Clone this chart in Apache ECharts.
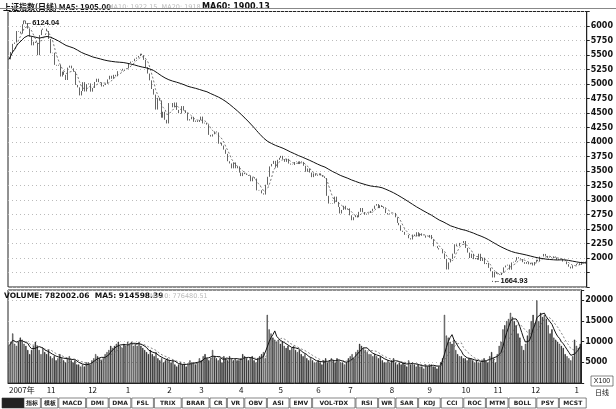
<!DOCTYPE html>
<html><head><meta charset="utf-8">
<script src="https://cdn.jsdelivr.net/npm/echarts@6/dist/echarts.min.js"></script>
<style>html,body{margin:0;padding:0;background:#fff}#c{width:616px;height:409px}</style>
</head><body><div id="c"></div>
<script>
const monthLabels = ['2007年','11','12','1','2','3','4','5','6','7','8','9','10','11','12','1'];
const closes = [
[5425,5552,5692,5715,5913,5903,5871,6030,6092,6036,5954,5818,5667,5729,5708,5497,5843,5935,5955,5954],
[5914,5777,5531,5538,5330,5316,5331,5129,5214,5158,5069,5282,5316,5270,5213,4984,4942,4803,4879,5032,4871,4998],
[5010,4868,4931,5035,5091,5032,5024,4957,4982,5007,5079,5142,5090,5158,5133,5221,5220,5233,5262,5261],
[5272,5362,5386,5394,5435,5456,5484,5522,5497,5416,5290,5180,5063,4914,4817,4559,4761,4717,4419,4521,4383,4320],
[4671,4672,4599,4681,4554,4497,4490,4619,4546,4499,4370,4393,4434,4348,4370,4346,4380],
[4438,4320,4333,4300,4123,4094,4133,4182,4165,3971,3988,3938,3869,3796,3668,3630,3546,3647,3547,3580,3472],
[3412,3472,3446,3431,3416,3323,3391,3370,3166,3173,3168,3115,3094,3263,3400,3579,3622,3675,3558,3693,3728],
[3761,3706,3658,3710,3628,3610,3603,3655,3664,3620,3667,3657,3590,3486,3543,3473,3394,3459,3418,3433],
[3459,3430,3400,3379,3072,2939,2932,2941,3058,2967,2880,2768,2829,2900,2836,2856,2736],
[2651,2704,2737,2703,2796,2862,2790,2747,2765,2776,2812,2848,2902,2930,2860,2910,2880,2855,2774,2750,2768,2775],
[2777,2702,2605,2565,2470,2450,2400,2397,2341,2319,2404,2378,2444,2372,2425,2383,2387,2350,2350,2397],
[2325,2202,2204,2170,2146,2145,2080,1986,1802,1924,1986,2075,2236,2201,2208,2260,2257,2293],
[2173,2093,2000,2073,1980,2000,1970,2073,1948,2005,1895,1913,1830,1771,1664,1762,1728],
[1719,1706,1747,1839,1870,1885,1799,1923,1934,1956,2014,1991,1982,1928,1900,1930,1891,1917,1871,1930],
[1970,1945,2024,2026,2070,2036,2002,2011,1997,2026,2008,1969,1986,1980,1938,1940,1893,1850,1820,1870,1877,1900,1911],
[1880,1934,1937,1905]];
const volumes = [
[9000,10000,12000,9500,9000,10000,11000,10500,9500,9000,8000,7000,8000,9000,10000,9000,8000,7000,8500,7500],
[7000,8000,6500,6000,6500,5500,6000,7000,6000,5500,5000,6000,6500,5500,5000,5500,4500,4500,4000,4500,4000,5000],
[5000,4500,5500,6000,7000,6500,6000,5500,6000,7000,7500,8000,9000,8500,9000,9500,10000,9000,8500,9500],
[9000,10000,9500,10000,9000,9500,9000,10000,9000,8500,8000,7500,7000,8000,7000,6500,7500,6000,5500,6000,5000,5500],
[6000,5500,5000,5500,4500,4000,4500,5000,4500,4500,4000,4500,5500,5000,5000,4500,5000],
[6000,5500,6500,7000,6000,5500,6000,8000,6500,6000,5500,6000,5000,6500,6000,5500,6500,6000,5500,6000,5500],
[5500,6000,7000,6500,6000,5500,6000,6500,5500,5000,6000,6500,7000,7500,6000,16500,13000,12000,11000,10500,10000],
[10500,9500,10000,9000,8500,9000,8000,8500,9000,8000,7500,8000,7000,6500,7000,6000,5500,6000,5500,5000],
[5000,5500,5000,4500,5500,6000,5000,5500,6000,5500,5000,6000,5500,5000,5000,4500,5000],
[6000,6500,7000,6000,7500,8000,9500,9000,8500,8000,7500,7000,7000,6500,7000,6500,6000,6500,5500,5000,5000,5500],
[5000,5500,6000,5000,4500,5000,4500,5000,4500,4000,5500,4500,5000,4500,4000,4500,4000,4000,3500,4500],
[4000,4500,4500,4000,4000,3500,4000,5000,6000,16500,11500,11000,10000,9500,10500,8000,7000,6500],
[6500,6000,6000,5500,6000,6000,5500,5000,5500,5000,5000,5500,6000,5500,5000,6500,7500],
[6000,5000,7000,9000,10000,13000,14000,15000,15500,17000,16000,15000,14000,12000,11000,9000,8000,9500,11500,13000],
[15000,16500,14500,20000,15000,17000,16000,16500,15500,14000,12000,13000,11000,10500,10000,9500,9000,8500,7000,6500,6000,5500,6500],
[10500,9000,8500,9500]];
const priceTicks = [2000,2250,2500,2750,3000,3250,3500,3750,4000,4250,4500,4750,5000,5250,5500,5750,6000];
const toolbarLabels = ['','指标','模板','MACD','DMI','DMA','FSL','TRIX','BRAR','CR','VR','OBV','ASI','EMV','VOL-TDX','RSI','WR','SAR','KDJ','CCI','ROC','MTM','BOLL','PSY','MCST'];

const cats=[], cl=[], vol=[];
closes.forEach((m,mi)=>m.forEach((v,i)=>{cats.push(i===0?monthLabels[mi]:'');cl.push(v);vol.push(volumes[mi][i]);}));
const k = cl.map((c,i)=>{const o=i?cl[i-1]:c;return [o,c,Math.min(o,c),Math.max(o,c)];});
function ma(a,n){return a.map((v,i)=>{const s=a.slice(Math.max(0,i-n+1),i+1);return +(s.reduce((x,y)=>x+y,0)/s.length).toFixed(2);});}
const volBars = vol.map((v,i)=>({value:v,itemStyle:{color:cl[i]>=k[i][0]?'#fff':'#222',borderColor:'#222',borderWidth:0.6}}));

const ch=echarts.init(document.getElementById('c'));
const lab={fontSize:8,color:'#111',fontFamily:'DejaVu Sans',fontWeight:'bold'};
const gfx=[];
let x=24;
toolbarLabels.forEach((t,i)=>{const w=i===0?22:(t.length*5.2+6);gfx.push({type:'rect',shape:{x:i===0?2:x,y:398,width:w,height:10},style:{fill:i===0?'#222':'#fff',stroke:'#333',lineWidth:0.6}});
 if(t)gfx.push({type:'text',x:x+w/2,y:403,style:{text:t,fontSize:6,fontWeight:'bold',fill:'#222',align:'center',verticalAlign:'middle',fontFamily:'DejaVu Sans'}});
 if(i>0)x+=w+1;});
gfx.push({type:'text',left:3,top:3,style:{text:'上证指数(日线) MA5: 1905.00',fontSize:8,fontWeight:'bold',fill:'#111',fontFamily:'Noto Sans CJK SC'}});
gfx.push({type:'text',left:108,top:4,style:{text:'MA10: 1922.15  MA20: 1918.47',fontSize:6.5,fill:'#bbb',fontFamily:'DejaVu Sans'}});
gfx.push({type:'text',left:202,top:3,style:{text:'MA60: 1900.13',fontSize:8,fontWeight:'bold',fill:'#111',fontFamily:'DejaVu Sans'}});
gfx.push({type:'text',left:4,top:292,style:{text:'VOLUME: 782002.06  MA5: 914598.39',fontSize:7.5,fontWeight:'bold',fill:'#111',fontFamily:'DejaVu Sans'}});
gfx.push({type:'text',left:150,top:293,style:{text:'MA10: 776480.51',fontSize:6.5,fill:'#bbb',fontFamily:'DejaVu Sans'}});
gfx.push({type:'rect',shape:{x:591,y:376,width:22,height:10},style:{fill:'#fff',stroke:'#333',lineWidth:0.6}});
gfx.push({type:'text',x:602,y:381,style:{text:'X100',fontSize:7,fill:'#111',align:'center',verticalAlign:'middle'}});
gfx.push({type:'text',x:602,y:392,style:{text:'日线',fontSize:7,fill:'#111',align:'center',verticalAlign:'middle',fontFamily:'Noto Sans CJK SC'}});
gfx.push({type:'rect',shape:{x:0,y:8,width:616,height:1},style:{fill:'#888'}});

ch.setOption({animation:false,backgroundColor:'#fff',graphic:gfx,
 grid:[{left:8,right:26,top:11.5,height:275.5,show:true,borderColor:'#222',borderWidth:1},
       {left:8,right:26,top:290,height:93,show:true,borderColor:'#222',borderWidth:1}],
 xAxis:[{type:'category',data:cats,gridIndex:0,boundaryGap:true,axisLine:{show:false},axisTick:{show:false},axisLabel:{show:false}},
        {type:'category',data:cats,gridIndex:1,boundaryGap:true,axisLine:{lineStyle:{color:'#222'}},
         axisTick:{interval:(i,v)=>v!=='',length:3,inside:true,lineStyle:{color:'#222'}},
         axisLabel:{interval:(i,v)=>v!=='',fontSize:8,color:'#111',margin:3,align:'left',fontFamily:'Noto Sans CJK SC'}}],
 yAxis:[{type:'value',gridIndex:0,position:'right',min:1500,max:6250,interval:250,
         axisLine:{show:true,lineStyle:{color:'#222'}},axisTick:{show:true,length:3,lineStyle:{color:'#222'}},
         axisLabel:{...lab,margin:4,formatter:v=>priceTicks.includes(v)?String(v):''},
         splitLine:{show:true,lineStyle:{color:'#bbb',type:[1,3],width:1}}},
        {type:'value',gridIndex:1,position:'right',min:0,max:22500,interval:5000,
         axisLine:{show:true,lineStyle:{color:'#222'}},axisTick:{show:true,length:3},
         axisLabel:{...lab,margin:4,formatter:v=>v>0&&v<=20000?String(v):''},
         splitLine:{show:true,lineStyle:{color:'#bbb',type:[1,3]}}}],
 series:[
  {type:'candlestick',data:k,xAxisIndex:0,yAxisIndex:0,barWidth:1.3,
   itemStyle:{color:'#fff',color0:'#222',borderColor:'#222',borderColor0:'#222',borderWidth:0.7},
   markPoint:{symbol:'circle',symbolSize:1,itemStyle:{color:'#111'},data:[
     {coord:[cl.indexOf(6092),6092],label:{show:true,formatter:'←6124.04',fontSize:7.5,fontWeight:'bold',color:'#111',position:'right',distance:0,offset:[0,2]}},
     {coord:[cl.indexOf(1664),1600],label:{show:true,formatter:'←1664.93',fontSize:7.5,fontWeight:'bold',color:'#111',position:'right',distance:0}}]}},
  {type:'line',data:ma(cl,5),symbol:'none',lineStyle:{color:'#555',width:0.8,type:[2,2]},xAxisIndex:0,yAxisIndex:0},
  {type:'line',data:ma(cl,60),symbol:'none',lineStyle:{color:'#111',width:1},xAxisIndex:0,yAxisIndex:0},
  {type:'bar',data:volBars,xAxisIndex:1,yAxisIndex:1,barWidth:1.2},
  {type:'line',data:ma(vol,5),symbol:'none',lineStyle:{color:'#111',width:1},xAxisIndex:1,yAxisIndex:1},
  {type:'line',data:ma(vol,10),symbol:'none',lineStyle:{color:'#666',width:0.8,type:[2,2]},xAxisIndex:1,yAxisIndex:1}
 ]});
</script></body></html>
